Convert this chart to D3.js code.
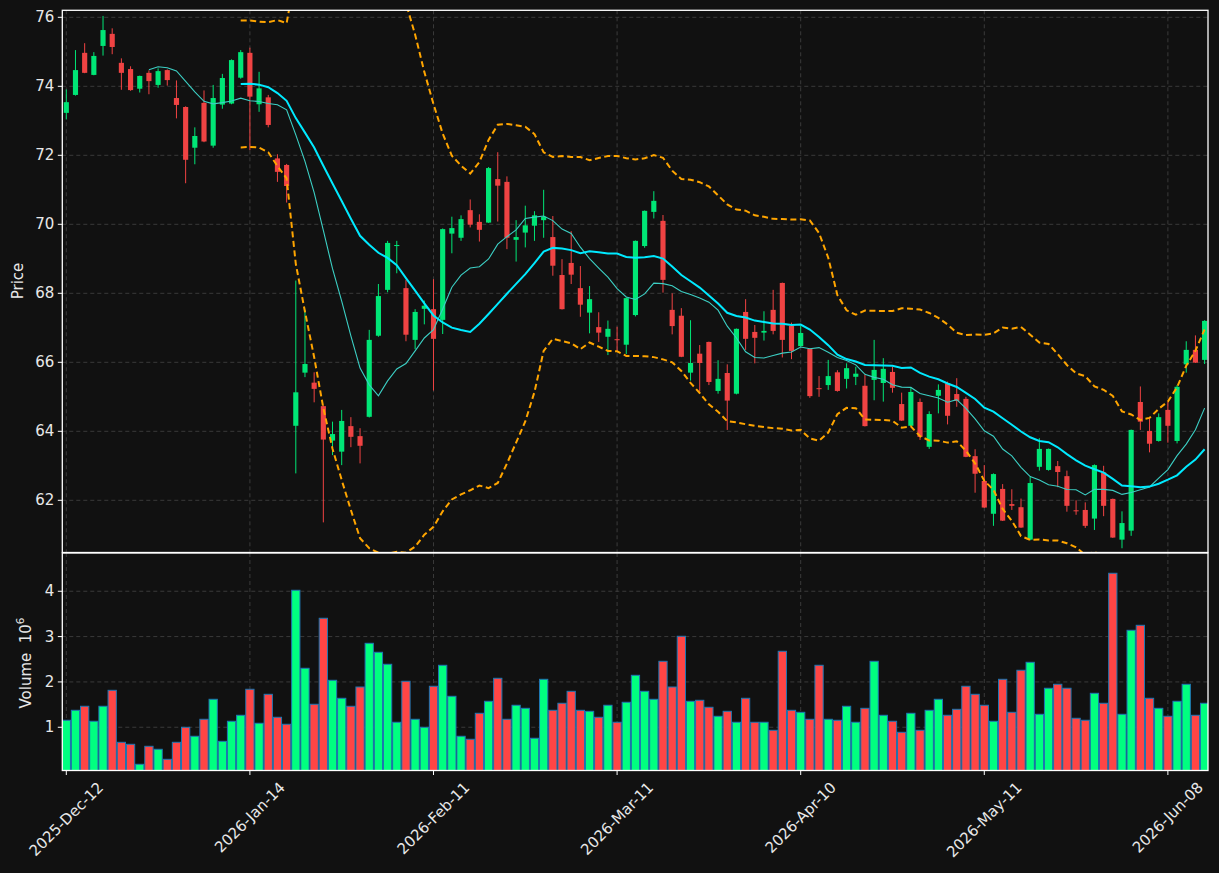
<!DOCTYPE html>
<html><head><meta charset="utf-8">
<script src="https://cdn.jsdelivr.net/npm/d3@7"></script>
<style>
html,body{margin:0;padding:0;background:#111111;}
svg{display:block;font-family:"DejaVu Sans",sans-serif;}
</style>
</head><body>
<svg id="chart" width="1219" height="873"></svg>
<script>
// ---------------- DATA ----------------
const tickLabels = ["2025-Dec-12","2026-Jan-14","2026-Feb-11","2026-Mar-11","2026-Apr-10","2026-May-11","2026-Jun-08"];
const tickIndex = [0,20,40,60,80,100,120];
const priceTicks = [62,64,66,68,70,72,74,76];
const volumeTicks = [1,2,3,4];

const opens = [73.23,73.75,74.97,74.33,75.17,75.52,74.68,74.50,73.93,74.39,
74.04,74.47,73.66,73.40,72.22,73.52,72.28,73.47,73.50,74.25,
74.97,73.48,73.68,71.91,71.72,64.16,65.70,65.41,64.73,63.73,
63.41,64.15,63.86,64.42,66.77,68.10,69.37,68.15,66.65,67.55,
67.54,67.23,69.73,69.61,70.41,70.07,70.05,71.31,71.23,69.55,
69.76,69.96,70.12,69.63,68.53,68.88,68.15,67.44,67.02,66.74,
66.67,66.51,67.37,69.37,70.36,70.10,67.52,67.35,65.70,66.25,
66.59,65.17,65.69,65.09,67.46,66.88,66.86,67.52,68.30,67.06,
66.47,66.39,65.25,65.34,65.71,65.52,65.58,65.32,65.49,65.40,
65.72,64.79,64.16,64.85,63.55,65.03,65.39,65.08,64.94,63.28,
62.56,61.61,62.33,61.89,61.80,60.86,62.97,62.88,62.99,62.70,
61.71,61.72,61.47,62.81,62.04,60.86,61.12,64.85,64.01,63.72,
64.62,63.72,65.94,66.36,66.07];
const highs = [73.91,75.05,75.25,74.99,76.04,75.68,74.81,74.58,74.31,74.46,
74.52,74.49,74.17,73.42,72.81,73.88,74.04,74.36,74.78,75.05,
75.12,74.42,73.75,72.03,71.75,68.37,67.52,65.71,64.75,64.28,
64.62,64.41,64.09,66.94,68.27,69.52,69.52,68.39,67.54,67.79,
68.41,69.88,70.22,70.26,70.72,70.29,71.66,72.09,71.39,70.12,
70.54,70.38,71.00,70.24,68.99,69.80,68.79,68.21,67.45,67.21,
67.03,67.88,69.53,70.40,70.96,70.27,68.00,67.57,67.22,66.50,
66.60,66.06,65.94,66.98,67.83,67.08,67.48,68.10,68.31,67.15,
67.05,66.40,65.60,66.07,65.77,65.97,65.87,65.65,66.65,66.12,
65.87,65.12,65.28,64.95,64.58,65.36,65.44,65.54,65.00,63.48,
63.02,62.78,62.47,62.32,62.05,62.68,63.80,63.50,63.14,62.86,
62.00,61.94,63.04,63.00,62.05,61.68,64.05,65.30,64.37,64.52,
64.86,65.34,66.61,66.78,67.22];
const lows = [73.04,73.73,74.38,74.32,74.89,74.93,73.90,73.87,73.82,73.77,
73.96,74.02,73.07,71.19,71.74,72.38,72.22,73.35,73.48,74.22,
72.15,73.26,72.81,71.23,70.63,62.78,65.57,64.84,61.36,63.31,
63.02,63.54,63.07,64.40,66.74,68.03,68.58,66.61,66.38,67.10,
65.18,66.82,69.16,69.52,69.91,69.50,70.04,70.08,69.28,68.92,
69.33,69.52,69.61,68.51,67.53,68.27,67.32,66.84,66.59,66.21,
66.31,66.24,67.33,69.32,70.17,68.02,66.81,66.15,65.47,65.15,
65.34,65.09,64.04,65.07,66.36,65.97,66.63,66.81,66.14,66.09,
66.45,64.97,65.00,65.20,65.15,65.24,65.34,64.14,64.90,64.86,
65.12,64.30,64.15,63.75,63.49,64.52,64.20,64.71,63.25,62.22,
61.78,61.26,61.40,61.72,61.20,60.84,62.86,62.86,62.38,61.67,
61.58,61.20,61.14,61.54,60.91,60.61,60.97,64.04,63.39,63.70,
63.67,63.65,65.70,65.98,65.95];
const closes = [73.54,74.47,74.39,74.88,75.63,75.14,74.39,73.89,74.30,74.15,
74.44,74.18,73.46,71.87,72.56,72.40,73.66,74.24,74.76,74.99,
73.70,73.94,72.88,71.52,71.11,65.13,65.95,65.23,63.76,63.92,
64.30,63.84,63.58,66.65,67.92,69.46,69.40,66.80,67.46,67.64,
66.68,69.86,69.89,70.15,69.99,69.84,71.63,71.12,69.61,69.63,
69.97,70.26,70.22,68.80,67.54,68.54,67.67,67.83,66.86,66.97,
66.64,67.86,69.52,70.39,70.68,68.39,67.05,66.16,65.98,65.98,
65.43,65.52,64.89,66.97,66.68,66.71,66.91,66.91,66.65,66.33,
66.85,65.02,65.23,65.60,65.17,65.83,65.67,64.15,65.78,65.81,
65.26,64.31,65.14,63.84,64.50,65.20,64.45,64.88,63.26,62.77,
61.79,62.76,61.41,61.84,61.21,62.50,63.49,63.49,62.82,61.84,
61.69,61.26,63.02,61.84,60.92,61.34,64.04,64.28,63.64,64.41,
64.16,65.29,66.36,65.99,67.20];
// volume in millions
const volumes = [1.154,1.374,1.463,1.132,1.463,1.815,0.668,0.624,0.183,0.580,
0.514,0.293,0.668,0.999,0.801,1.176,1.617,0.690,1.132,1.264,
1.838,1.088,1.727,1.220,1.066,4.022,2.301,1.507,3.404,2.036,
1.639,1.463,1.888,2.852,2.654,2.389,1.110,2.014,1.176,0.999,
1.904,2.367,1.683,0.801,0.735,1.308,1.573,2.080,1.176,1.485,
1.418,0.757,2.058,1.374,1.529,1.793,1.374,1.352,1.220,1.485,
1.110,1.551,2.146,1.793,1.617,2.455,1.888,3.007,1.573,1.595,
1.441,1.242,1.352,1.110,1.639,1.110,1.110,0.933,2.676,1.374,
1.330,1.176,2.367,1.176,1.154,1.463,1.110,1.418,2.455,1.264,
1.132,0.889,1.308,0.933,1.374,1.617,1.264,1.396,1.904,1.727,
1.485,1.132,2.058,1.330,2.257,2.433,1.286,1.860,1.948,1.860,
1.198,1.154,1.749,1.529,4.397,1.286,3.139,3.249,1.639,1.418,
1.242,1.573,1.948,1.264,1.529];

// up/down flags for mplfinance-style colouring
const isUpDay = [1,1,0,1,1,0,0,0,1,0, 1,0,0,0,1,0,1,1,1,1, 0,1,0,0,0,1,1,0,0,1,
1,0,0,1,1,1,1,0,1,1, 0,1,1,1,0,0,1,0,0,1, 1,1,1,0,0,0,0,1,0,1,
0,1,1,1,1,0,0,0,1,0, 0,1,0,1,0,0,1,0,0,0, 1,0,0,1,0,1,1,0,1,1,
0,0,1,0,1,1,0,0,0,0, 0,1,0,0,0,1,1,1,0,0, 0,0,1,0,0,1,1,0,0,1,
0,1,1,0,1];

// ---------------- INDICATORS (derived from closes) ----------------
function sma(arr, n){ return arr.map((v,i)=> i<n-1 ? null : d3.mean(arr.slice(i-n+1,i+1))); }
function bands(arr, n, k){
  return arr.map((v,i)=>{
    if(i<n-1) return null;
    const s = arr.slice(i-n+1,i+1), m = d3.mean(s);
    const sd = Math.sqrt(d3.mean(s.map(x=>(x-m)*(x-m))));
    return {up:m+k*sd, lo:m-k*sd};
  });
}
const ma10 = sma(closes,10), ma20 = sma(closes,20), bb = bands(closes,20,2);

// ---------------- LAYOUT ----------------
const svg = d3.select('#chart');
const L = 62.3, R = 1208;
const pTop = 10.3, pBot = 552.5, vTop = 553, vBot = 770.5;
const up = '#00e676', down = '#f04343', vUp = '#00ff80', vDown = '#ff4545';
const txt = '#e8e8e8';

const x = d3.scaleLinear().domain([-0.436,124.37]).range([L,R]);
const yP = d3.scaleLinear().domain([60.487,76.203]).range([pBot,pTop]);
const yV = d3.scaleLinear().domain([0.046,4.844]).range([vBot,vTop]);

svg.append('rect').attr('width',1219).attr('height',873).attr('fill','#111111');
const defs = svg.append('defs');
defs.append('clipPath').attr('id','clipP').append('rect').attr('x',L).attr('y',pTop).attr('width',R-L).attr('height',pBot-pTop);
defs.append('clipPath').attr('id','clipV').append('rect').attr('x',L).attr('y',vTop).attr('width',R-L).attr('height',vBot-vTop);

// grid
const grid = svg.append('g').attr('stroke','#404040').attr('stroke-width',0.9).attr('stroke-dasharray','4,3');
priceTicks.forEach(t=>grid.append('line').attr('x1',L).attr('x2',R).attr('y1',yP(t)).attr('y2',yP(t)));
volumeTicks.forEach(t=>grid.append('line').attr('x1',L).attr('x2',R).attr('y1',yV(t)).attr('y2',yV(t)));
tickIndex.forEach(t=>{
  grid.append('line').attr('x1',x(t)).attr('x2',x(t)).attr('y1',pTop).attr('y2',pBot);
  grid.append('line').attr('x1',x(t)).attr('x2',x(t)).attr('y1',vTop).attr('y2',vBot);
});

// volume bars
const step = x(1)-x(0);
const vbw = step*0.9;
const gv = svg.append('g').attr('clip-path','url(#clipV)');
gv.selectAll('rect').data(volumes).join('rect')
  .attr('x',(d,i)=>x(i)-vbw/2).attr('width',vbw)
  .attr('y',d=>yV(d)).attr('height',d=>yV(0.046)-yV(d)+2)
  .attr('fill',(d,i)=>isUpDay[i]?vUp:vDown)
  .attr('stroke','#1f77b4').attr('stroke-width',1);

// candles
const gp = svg.append('g').attr('clip-path','url(#clipP)');
const bw = step*0.56;
gp.selectAll('line.wick').data(closes).join('line').attr('class','wick')
  .attr('x1',(d,i)=>x(i)).attr('x2',(d,i)=>x(i))
  .attr('y1',(d,i)=>yP(highs[i])).attr('y2',(d,i)=>yP(lows[i]))
  .attr('stroke',(d,i)=>isUpDay[i]?up:down).attr('stroke-width',1);
gp.selectAll('rect.body').data(closes).join('rect').attr('class','body')
  .attr('x',(d,i)=>x(i)-bw/2).attr('width',bw)
  .attr('y',(d,i)=>yP(Math.max(opens[i],d)))
  .attr('height',(d,i)=>Math.max(1,Math.abs(yP(opens[i])-yP(d))))
  .attr('fill',(d,i)=>isUpDay[i]?up:down);

// indicator lines
const lineOf = () => d3.line().defined(d=>d.v!=null).x(d=>x(d.i)).y(d=>yP(d.v));
const pts = arr => arr.map((v,i)=>({i, v}));
gp.append('path').attr('d',lineOf()(pts(ma10))).attr('fill','none').attr('stroke','#3ccfc4').attr('stroke-width',1.1);
gp.append('path').attr('d',lineOf()(pts(ma20))).attr('fill','none').attr('stroke','#00eaff').attr('stroke-width',2);
gp.append('path').attr('d',lineOf()(pts(bb.map(b=>b?b.up:null)))).attr('fill','none').attr('stroke','#ffa500').attr('stroke-width',2).attr('stroke-dasharray','6,3.5');
gp.append('path').attr('d',lineOf()(pts(bb.map(b=>b?b.lo:null)))).attr('fill','none').attr('stroke','#ffa500').attr('stroke-width',2).attr('stroke-dasharray','6,3.5');

// frames
const fr = svg.append('g').attr('fill','none').attr('stroke','#ffffff').attr('stroke-width',1.3);
fr.append('rect').attr('x',L).attr('y',pTop).attr('width',R-L).attr('height',pBot-pTop);
fr.append('rect').attr('x',L).attr('y',vTop).attr('width',R-L).attr('height',vBot-vTop);

// y ticks
const ax = svg.append('g');
priceTicks.forEach(t=>{
  ax.append('line').attr('x1',L-4.5).attr('x2',L).attr('y1',yP(t)).attr('y2',yP(t)).attr('stroke','#fff').attr('stroke-width',1);
  ax.append('text').attr('x',L-8).attr('y',yP(t)).attr('text-anchor','end').attr('dominant-baseline','central')
    .attr('fill',txt).attr('font-size',15).text(t);
});
volumeTicks.forEach(t=>{
  ax.append('line').attr('x1',L-4.5).attr('x2',L).attr('y1',yV(t)).attr('y2',yV(t)).attr('stroke','#fff').attr('stroke-width',1);
  ax.append('text').attr('x',L-8).attr('y',yV(t)).attr('text-anchor','end').attr('dominant-baseline','central')
    .attr('fill',txt).attr('font-size',15).text(t);
});
// x ticks
tickIndex.forEach((t,k)=>{
  ax.append('line').attr('x1',x(t)).attr('x2',x(t)).attr('y1',vBot).attr('y2',vBot+4.5).attr('stroke','#fff').attr('stroke-width',1);
  const tx = ax.append('text').attr('fill',txt).attr('font-size',15).attr('text-anchor','middle')
    .attr('dominant-baseline','central').text(tickLabels[k]);
  const len = tx.node().getComputedTextLength();
  const half = (len+11)/(2*Math.SQRT2);
  tx.attr('transform',`translate(${x(t)},${781+half}) rotate(-45)`);
});

// axis labels
ax.append('text').attr('transform','translate(18,281) rotate(-90)').attr('text-anchor','middle')
  .attr('dominant-baseline','central').attr('fill',txt).attr('font-size',15).text('Price');
const vl = ax.append('text').attr('transform','translate(26,663) rotate(-90)').attr('text-anchor','middle')
  .attr('dominant-baseline','central').attr('fill',txt).attr('font-size',15).style('white-space','pre');
vl.append('tspan').text('Volume\u00A0\u00A010');
vl.append('tspan').attr('font-size',10.5).attr('dy',-6).text('6');
</script>
</body></html>
